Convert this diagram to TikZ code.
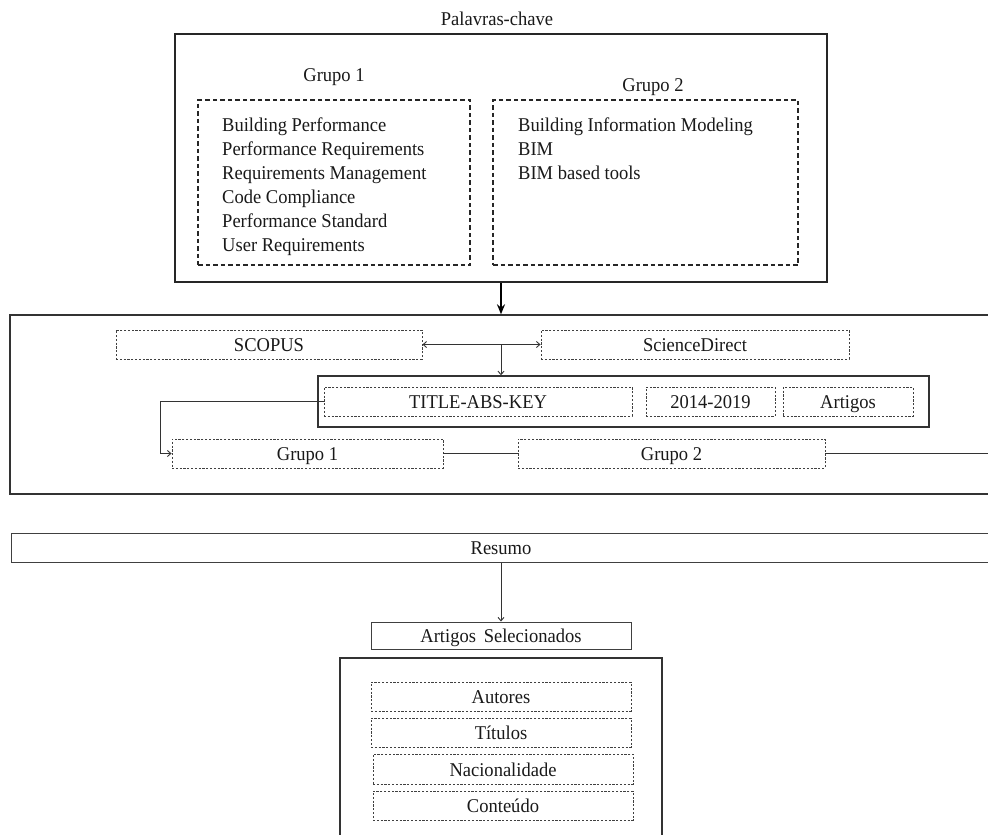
\documentclass[tikz,border=0pt]{standalone}
\usepackage{fontspec}
\setmainfont{Liberation Serif}[FakeStretch=0.95]
\usetikzlibrary{arrows.meta}
\begin{document}
\begin{tikzpicture}[x=1pt,y=-1pt,
  every node/.style={font=\fontsize{19.5}{24}\selectfont, text=black!90, inner sep=0pt},
  heavyframe/.style={draw=black!85, line width=1.7pt},
  frame/.style={draw=black!80, line width=1.4pt},
  thinframe/.style={draw=black!75, line width=1pt, text height=14pt, text depth=0pt},
  dashbox/.style={draw=black!75, line width=0.9pt, dash pattern=on 2.2pt off 1.6pt,
    text height=14pt, text depth=0pt},
  keybox/.style={draw=black!85, line width=1.3pt, dash pattern=on 4.5pt off 3pt},
  link/.style={draw=black!80, line width=0.9pt},
  arr/.style={link, -{Straight Barb[length=3.5pt,width=6pt]}},
  bigarr/.style={draw=black, line width=2pt, -{Stealth[length=10pt,width=8pt]}},
]
\useasboundingbox (0,0) rectangle (988,835);
\clip (0,0) rectangle (988,835);

% keyword groups
\node (kwtitle) at (497,19) {Palavras-chave};
\node[heavyframe, minimum width=652pt, minimum height=248pt] (kwbox) at (501,158) {};
\node (g1label) at (334,77) {Grupo 1};
\node (g2label) at (653,87) {Grupo 2};
\node[keybox, minimum width=272pt, minimum height=165pt] (g1box) at (334,182.5) {};
\node[keybox, minimum width=305pt, minimum height=165pt] (g2box) at (645.5,182.5) {};

\node[anchor=base west] (g1a) at (222,131) {Building Performance};
\node[anchor=base west] (g1b) at (222,155) {Performance Requirements};
\node[anchor=base west] (g1c) at (222,179) {Requirements Management};
\node[anchor=base west] (g1d) at (222,203) {Code Compliance};
\node[anchor=base west] (g1e) at (222,227) {Performance Standard};
\node[anchor=base west] (g1f) at (222,251) {User Requirements};

\node[anchor=base west] (g2a) at (518,131) {Building Information Modeling};
\node[anchor=base west] (g2b) at (518,155) {BIM};
\node[anchor=base west] (g2c) at (518,179) {BIM based tools};

% search block
\node[frame, minimum width=982pt, minimum height=179pt] (midbox) at (501,404.5) {};
\node[dashbox, minimum width=306pt, minimum height=29pt] (scopus) at (269,344.5) {SCOPUS};
\node[dashbox, minimum width=308pt, minimum height=29pt] (sd) at (695,344.5) {ScienceDirect};
\coordinate (j) at (501,344.5);
\node[frame, minimum width=611pt, minimum height=51pt] (inner) at (623.5,401.5) {};
\node[dashbox, minimum width=308pt, minimum height=29pt] (tak) at (478,401.5) {TITLE-ABS-KEY};
\node[dashbox, minimum width=129pt, minimum height=29pt] (yr) at (710.5,401.5) {2014-2019};
\node[dashbox, minimum width=130pt, minimum height=29pt] (art) at (848,401.5) {Artigos};
\node[dashbox, minimum width=271pt, minimum height=29pt] (g1r) at (307.5,453.5) {Grupo 1};
\node[dashbox, minimum width=307pt, minimum height=29pt] (g2r) at (671.5,453.5) {Grupo 2};
\coordinate (bend) at (160,0);
\coordinate (rightend) at (995,453.5);

\draw[bigarr] (kwbox.south) -- (kwbox.south |- midbox.north);
\draw[arr] (j) -- (scopus.east);
\draw[arr] (j) -- (sd.west);
\draw[arr] (j) -- (j |- inner.north);
\draw[arr] (tak.west) -- (bend |- tak.west) |- (g1r.west);
\draw[link] (g1r.east) -- (g2r.west);
\draw[link] (g2r.east) -- (rightend);

% selection
\node[thinframe, minimum width=980pt, minimum height=29pt] (resumo) at (501,547.5) {Resumo};
\node[thinframe, minimum width=260pt, minimum height=27pt] (artsel) at (501,635.5) {Artigos\hspace{0.4em}Selecionados};
\draw[arr] (artsel.north |- resumo.south) -- (artsel.north);

\node[frame, minimum width=322pt, minimum height=242pt] (outbox) at (501,779) {};
\node[dashbox, minimum width=260pt, minimum height=29pt] (autores) at (501,696.5) {Autores};
\node[dashbox, minimum width=260pt, minimum height=29pt] (titulos) at (501,732.5) {Títulos};
\node[dashbox, minimum width=260pt, minimum height=30pt] (nac) at (503,769) {Nacionalidade};
\node[dashbox, minimum width=260pt, minimum height=29pt] (cont) at (503,805.5) {Conteúdo};
\end{tikzpicture}
\end{document}
